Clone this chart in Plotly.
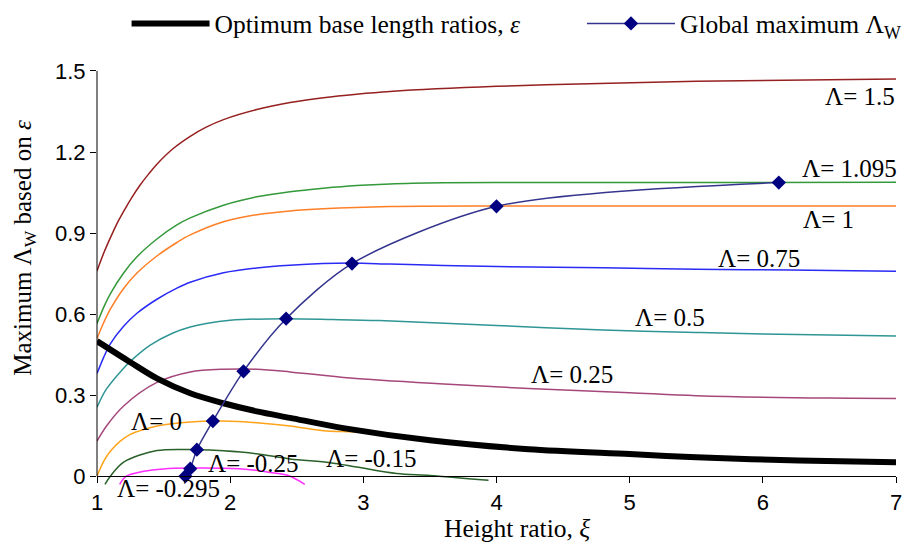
import plotly.graph_objects as go

# ---------------- data ----------------
XI_15 = [1, 1.05, 1.1, 1.15, 1.2, 1.26, 1.32, 1.39, 1.45, 1.57, 1.7, 1.82, 1.95, 2.2, 2.45, 2.7, 2.95, 3.2, 4.0, 4.77, 5.5, 7.0]
L_15 = [0.76, 0.825, 0.882, 0.935, 0.98, 1.03, 1.075, 1.12, 1.155, 1.212, 1.258, 1.292, 1.32, 1.357, 1.383, 1.401, 1.414, 1.424, 1.443, 1.454, 1.462, 1.47]

XI_1095 = [1, 1.05, 1.1, 1.2, 1.3, 1.45, 1.6, 1.7, 1.95, 2.2, 2.45, 2.7, 2.95, 3.2, 3.6, 4.0, 5.0, 6.0, 7.0]
L_1095 = [0.565, 0.625, 0.675, 0.752, 0.812, 0.878, 0.93, 0.956, 1.003, 1.034, 1.053, 1.066, 1.076, 1.082, 1.086, 1.087, 1.087, 1.087, 1.088]

XI_1 = [1, 1.05, 1.1, 1.2, 1.3, 1.45, 1.6, 1.7, 1.95, 2.2, 2.45, 2.7, 3.2, 4.0, 5.0, 6.0, 7.0]
L_1 = [0.51, 0.568, 0.618, 0.695, 0.752, 0.815, 0.865, 0.893, 0.942, 0.968, 0.982, 0.99, 0.998, 1.0, 1.0, 1.0, 1.0]

XI_075 = [1, 1.05, 1.1, 1.2, 1.3, 1.45, 1.6, 1.7, 1.95, 2.2, 2.45, 2.9, 3.2, 3.6, 4.0, 4.8, 5.5, 6.2, 7.0]
L_075 = [0.38, 0.44, 0.49, 0.555, 0.603, 0.655, 0.696, 0.718, 0.753, 0.771, 0.781, 0.789, 0.785, 0.78, 0.776, 0.772, 0.766, 0.763, 0.759]

XI_05 = [1, 1.07, 1.2, 1.25, 1.4, 1.57, 1.7, 1.82, 2.0, 2.4, 2.77, 3.12, 4.0, 4.8, 5.5, 6.0, 7.0]
L_05 = [0.255, 0.322, 0.40, 0.425, 0.485, 0.53, 0.552, 0.565, 0.577, 0.583, 0.58, 0.576, 0.558, 0.541, 0.532, 0.526, 0.519]

XI_025 = [1, 1.07, 1.2, 1.45, 1.7, 1.95, 2.2, 2.45, 2.9, 3.57, 4.24, 5.0, 5.5, 6.5, 7.0]
L_025 = [0.13, 0.185, 0.26, 0.347, 0.386, 0.396, 0.396, 0.386, 0.363, 0.342, 0.325, 0.309, 0.298, 0.289, 0.288]

XI_0 = [1, 1.05, 1.1, 1.17, 1.25, 1.35, 1.45, 1.7, 1.95, 2.2, 2.45, 2.7, 3.0, 3.5, 4.24, 5.0, 5.5, 6.27, 7.0]
L_0 = [0.0, 0.055, 0.092, 0.128, 0.155, 0.173, 0.186, 0.201, 0.204, 0.198, 0.186, 0.168, 0.162, 0.13, 0.099, 0.08, 0.069, 0.057, 0.051]

XI_M015 = [1.06, 1.1, 1.2, 1.45, 1.75, 1.95, 2.2, 2.45, 2.75, 2.95, 3.25, 3.5, 3.94]
L_M015 = [-0.03, 0.0, 0.052, 0.095, 0.098, 0.094, 0.083, 0.064, 0.05, 0.034, 0.01, 0.003, -0.015]

XI_M025 = [1.17, 1.22, 1.35, 1.5, 1.7, 1.95, 2.15, 2.3, 2.45, 2.56]
L_M025 = [-0.03, 0.0, 0.018, 0.027, 0.03, 0.029, 0.024, 0.014, 0.0, -0.03]

XI_OPT = [1, 1.25, 1.45, 1.7, 1.95, 2.2, 2.45, 2.85, 3.5, 4.24, 5.0, 5.5, 6.27, 7.0]
EPS_OPT = [0.50, 0.422, 0.362, 0.307, 0.27, 0.24, 0.216, 0.178, 0.133, 0.10, 0.082, 0.07, 0.058, 0.052]

XI_GMAX = [1.664, 1.70, 1.75, 1.87, 2.10, 2.42, 2.915, 4.0, 6.12]
L_GMAX = [0.0, 0.028, 0.098, 0.204, 0.388, 0.583, 0.787, 0.999, 1.087]

# curve labels (data positions; the last one sits just under the x axis)
LABELS = ["Λ= 1.5", "Λ= 1.095", "Λ= 1", "Λ= 0.75", "Λ= 0.5", "Λ= 0.25",
          "Λ= 0", "Λ= -0.25", "Λ= -0.15"]
LABEL_X = [6.73, 6.648, 6.49, 5.97, 5.30, 4.57, 1.449, 2.176, 3.06]
LABEL_Y = [1.405, 1.139, 0.950, 0.805, 0.586, 0.375, 0.204, 0.047, 0.066]
LABEL_BELOW = "Λ= -0.295"
LABEL_BELOW_X = 1.539

X_TICKS = [1, 2, 3, 4, 5, 6, 7]
Y_TICKS = [0, 0.3, 0.6, 0.9, 1.2, 1.5]
Y_TICKTEXT = ["0", "0.3", "0.6", "0.9", "1.2", "1.5"]

# ---------------- figure ----------------
SERIF = "Liberation Serif, Times New Roman, serif"
SANS = "Liberation Sans, Arial, sans-serif"

curves = [
    (XI_M025, L_M025, "#FF2DFF"),
    (XI_M015, L_M015, "#2A602A"),
    (XI_0, L_0, "#FFA31A"),
    (XI_025, L_025, "#A5477A"),
    (XI_05, L_05, "#2F9595"),
    (XI_075, L_075, "#2A2AF5"),
    (XI_1, L_1, "#FF7F27"),
    (XI_1095, L_1095, "#33993A"),
    (XI_15, L_15, "#962020"),
]

fig = go.Figure()
for xs, ys, col in curves:
    fig.add_trace(go.Scatter(x=xs, y=ys, mode="lines", showlegend=False,
                             line=dict(color=col, width=1.5, shape="spline", smoothing=0.9),
                             hoverinfo="skip"))

fig.add_trace(go.Scatter(x=XI_OPT, y=EPS_OPT, mode="lines",
                         name="Optimum base length ratios, <i>ε</i>",
                         legend="legend",
                         line=dict(color="black", width=6, shape="spline", smoothing=0.9)))

fig.add_trace(go.Scatter(x=XI_GMAX, y=L_GMAX, mode="lines+markers",
                         name="Global maximum Λ<sub>W</sub>",
                         legend="legend2",
                         line=dict(color="#34348F", width=1.5, shape="spline", smoothing=0.8),
                         marker=dict(symbol="diamond", size=11, color="#000080"),
                         cliponaxis=False))

LBL_FONT = dict(family=SERIF, size=25, color="black")
for t, lx, ly in zip(LABELS, LABEL_X, LABEL_Y):
    fig.add_annotation(x=lx, y=ly, xref="x", yref="y", text=t, showarrow=False,
                       xanchor="center", yanchor="middle", font=LBL_FONT)
fig.add_annotation(x=LABEL_BELOW_X, y=0.0, xref="x", yref="paper", text=LABEL_BELOW,
                   showarrow=False, xanchor="center", yanchor="middle", font=LBL_FONT)

YMIN = -0.0437
YTOP = 1.733
fig.add_annotation(x=0.5256, y=-0.084, xref="paper", yref="paper",
                   text="Height ratio, <i>ξ</i>", showarrow=False,
                   xanchor="center", yanchor="middle",
                   font=dict(family=SERIF, size=25.5, color="black"))

# y axis line only from 0 to 1.5
fig.add_shape(type="line", xref="paper", yref="y", x0=0, x1=0, y0=0, y1=1.5,
              line=dict(color="black", width=1))

LEG_FONT = dict(family=SERIF, size=25.5, color="black")
fig.update_layout(
    width=907, height=550,
    margin=dict(l=97, r=9, t=0, b=62, pad=0),
    paper_bgcolor="white", plot_bgcolor="white",
    showlegend=True,
    legend=dict(orientation="h", x=0.037, y=0.967, xanchor="left", yanchor="middle",
                font=LEG_FONT, itemwidth=78, bgcolor="rgba(0,0,0,0)"),
    legend2=dict(orientation="h", x=0.607, y=0.967, xanchor="left", yanchor="middle",
                 font=LEG_FONT, itemwidth=88, bgcolor="rgba(0,0,0,0)"),
    xaxis=dict(range=[1, 7], tickvals=X_TICKS, ticks="outside", ticklen=6,
               tickcolor="black", showline=True, linecolor="black", linewidth=1,
               showgrid=False, zeroline=False, anchor="free",
               position=-YMIN / (YTOP - YMIN),
               tickfont=dict(family=SANS, size=22, color="black")),
    yaxis=dict(range=[YMIN, YTOP], tickvals=Y_TICKS, ticktext=Y_TICKTEXT,
               ticks="outside", ticklen=6, tickcolor="black",
               showline=False, showgrid=False, zeroline=False,
               tickfont=dict(family=SANS, size=22, color="black"),
               title=dict(text="Maximum Λ<sub>W</sub> based on <i>ε</i>",
                          font=dict(family=SERIF, size=25, color="black"),
                          standoff=16)),
)

fig.write_html("out.html")
